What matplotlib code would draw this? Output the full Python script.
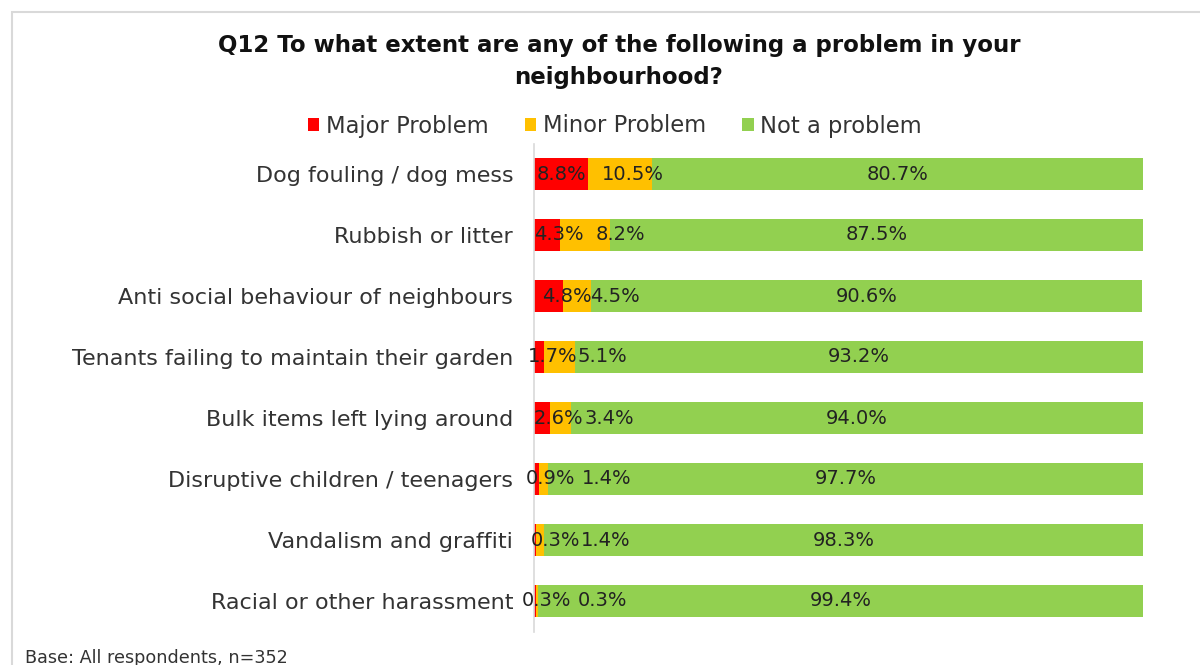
import matplotlib
matplotlib.use("Agg")
import matplotlib.pyplot as plt
from matplotlib.patches import Rectangle, Patch
import numpy as np

categories = [
    "Dog fouling / dog mess",
    "Rubbish or litter",
    "Anti social behaviour of neighbours",
    "Tenants failing to maintain their garden",
    "Bulk items left lying around",
    "Disruptive children / teenagers",
    "Vandalism and graffiti",
    "Racial or other harassment",
]
major = [8.8, 4.3, 4.8, 1.7, 2.6, 0.9, 0.3, 0.3]
minor = [10.5, 8.2, 4.5, 5.1, 3.4, 1.4, 1.4, 0.3]
not_problem = [80.7, 87.5, 90.6, 93.2, 94.0, 97.7, 98.3, 99.4]

series_names = ["Major Problem", "Minor Problem", "Not a problem"]
series_colors = ["#FF0000", "#FFC000", "#92D050"]

# hand-placed label centres (in % along the bar) for the narrow segments
major_label_x = [4.43, 4.11, 5.42, 3.12, 3.94, 2.63, 3.45, 2.13]
minor_label_x = [16.26, 14.12, 13.30, 11.17, 12.32, 11.99, 11.82, 11.33]

plt.rcParams["font.family"] = ["DejaVu Sans"]

W, H = 1200, 665
fig = plt.figure(figsize=(W / 100, H / 100), dpi=100)

# outer chart frame
fig.patches.append(Rectangle((12 / W, -0.05), 1.2, 1 - 12 / H + 0.05,
                             transform=fig.transFigure, fill=False,
                             edgecolor="#D9D9D9", linewidth=1.5))

ax_left, ax_right = 534, 1143
ax_top, ax_bottom = 143.5, 631.5
ax = fig.add_axes([ax_left / W, 1 - ax_bottom / H,
                   (ax_right - ax_left) / W, (ax_bottom - ax_top) / H])

y = np.arange(len(categories))
left = np.zeros(len(categories))
handles = []
label_xs = [major_label_x, minor_label_x, None]
for vals, name, col, lx in zip([major, minor, not_problem], series_names,
                               series_colors, label_xs):
    vals = np.array(vals)
    ax.barh(y, vals, left=left, height=0.54, color=col, edgecolor="none")
    for yi, (l, v) in enumerate(zip(left, vals)):
        xpos = l + v / 2 if lx is None else lx[yi]
        ax.text(xpos, yi, f"{v:.1f}%", ha="center", va="center",
                fontsize=14, color="#222222")
    left = left + vals
    handles.append(Patch(facecolor=col, edgecolor="none", label=name))

ax.set_xlim(0, 100)
ax.set_ylim(len(categories) - 0.5, -0.5)
ax.set_yticks(y)
ax.set_yticklabels(categories, fontsize=16, color="#333333")
ax.tick_params(axis="y", length=0, pad=15)
ax.set_xticks([])
for s in ["top", "right", "bottom"]:
    ax.spines[s].set_visible(False)
ax.spines["left"].set_color("#D9D9D9")
ax.spines["left"].set_linewidth(1.2)

fig.text(619 / W, 1 - 61.5 / H,
         "Q12 To what extent are any of the following a problem in your\nneighbourhood?",
         ha="center", va="center", fontsize=16.5, fontweight="bold",
         color="#111111", linespacing=1.55)

fig.legend(handles=handles, loc="center", bbox_to_anchor=(615 / W, 1 - 126 / H),
           ncol=3, frameon=False, fontsize=16.3, handlelength=0.5, handleheight=0.5,
           handletextpad=0.3, columnspacing=1.6, labelcolor="#333333")

fig.text(25 / W, 1 - 649 / H, "Base: All respondents, n=352", ha="left", va="top",
         fontsize=12.7, color="#333333")

fig.savefig("out.png", dpi=100)
